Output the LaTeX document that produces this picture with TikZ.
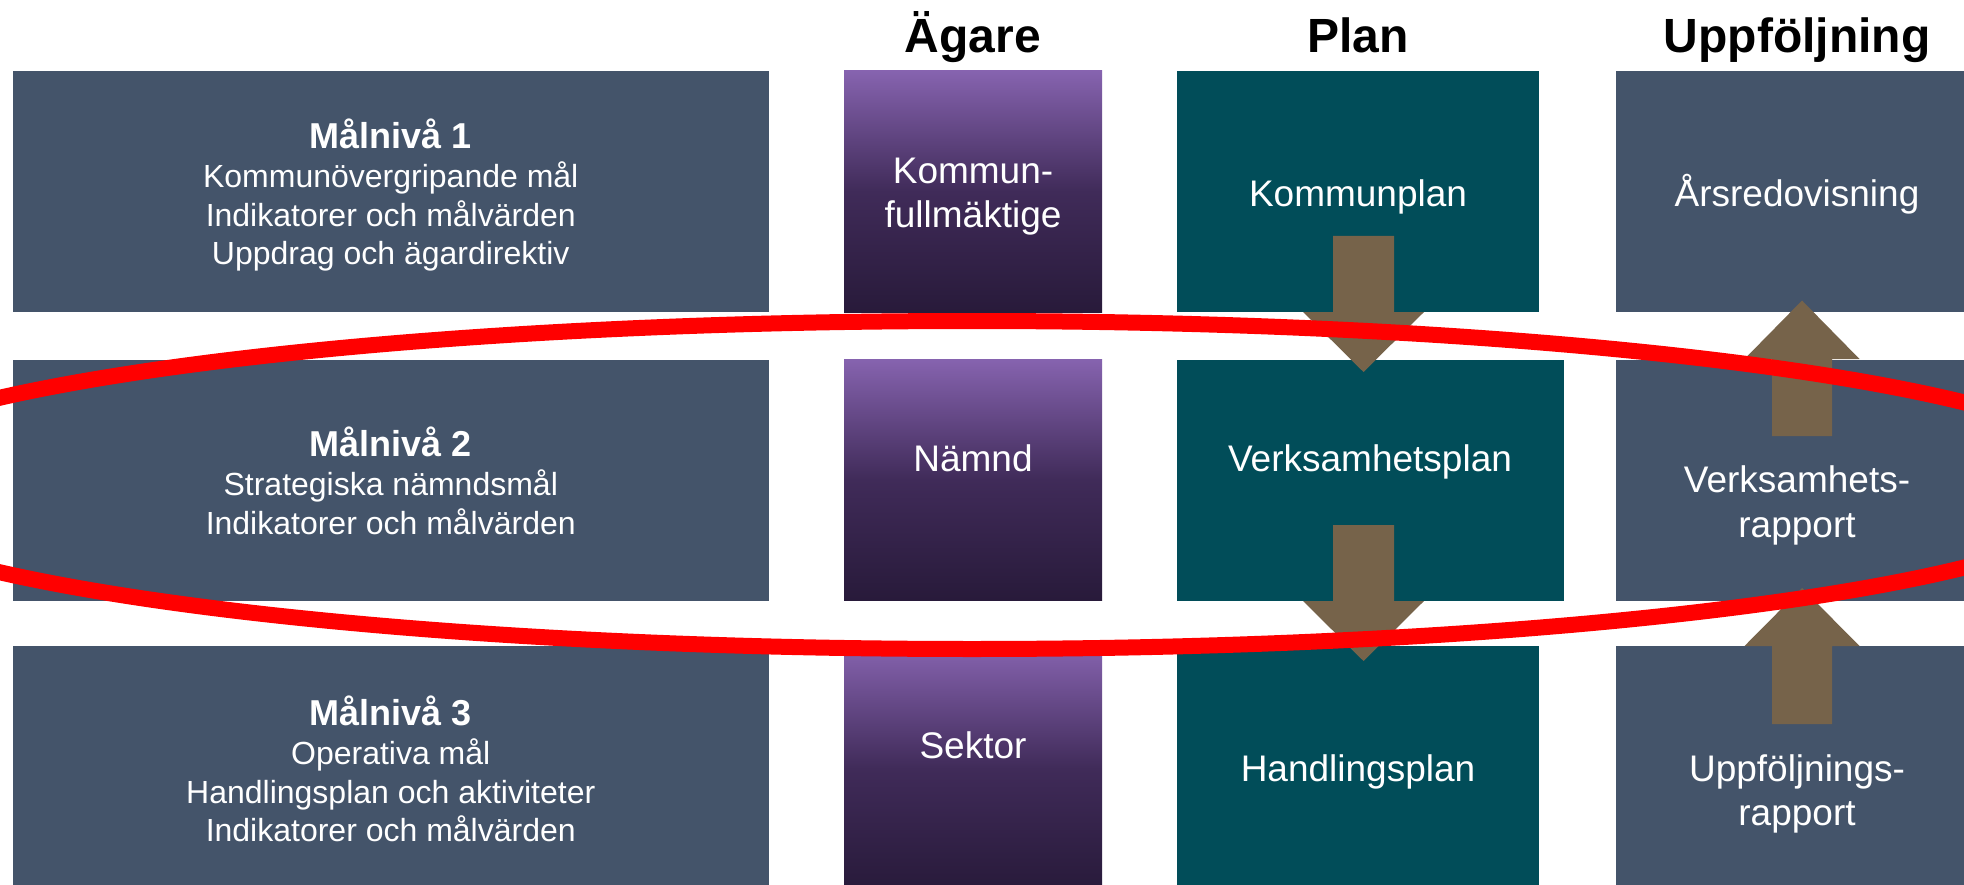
\documentclass[tikz,border=0pt]{standalone}
\usepackage{fontspec}
\setmainfont{Liberation Sans}
\definecolor{slate}{RGB}{68,84,106}
\definecolor{tealbox}{RGB}{1,77,89}
\definecolor{arrowbrown}{RGB}{118,99,74}
\definecolor{purtop}{RGB}{134,99,175}
\definecolor{purmid}{RGB}{64,43,89}
\definecolor{purbot}{RGB}{40,26,58}
\begin{document}
\begin{tikzpicture}[x=1pt,y=-1pt,
  box/.style={draw=none, inner sep=0pt, outer sep=0pt, anchor=north west},
  goalbox/.style={box, fill=slate, minimum width=756.5pt},
  ownerbox/.style={box, top color=purtop, bottom color=purbot, middle color=purmid, minimum width=258pt},
  planbox/.style={box, fill=tealbox},
  followbox/.style={box, fill=slate, minimum width=360pt},
  goaltitle/.style={text=white, anchor=base, inner sep=0pt, font=\fontsize{36}{40}\selectfont\bfseries},
  goaltext/.style={text=white, anchor=base, inner sep=0pt, font=\fontsize{32}{38}\selectfont},
  coltext/.style={text=white, anchor=base, inner sep=0pt, font=\fontsize{37}{44}\selectfont},
  header/.style={text=black, anchor=base, inner sep=0pt, font=\fontsize{48}{52}\selectfont\bfseries},
  blockarrow/.style={fill=arrowbrown, draw=none},
  ring/.style={draw=red, line width=16pt}
]
\useasboundingbox (0,0) rectangle (1964,885);
\clip (0,0) rectangle (1964,885);

% headers
\node[header] (hA) at (973,53) {Ägare};
\node[header] (hP) at (1358,53) {Plan};
\node[header] (hU) at (1797,53) {Uppföljning};

% goal boxes
\node[goalbox, minimum height=241pt] (m1) at (12.5,71) {};
\node[goalbox, minimum height=241.5pt] (m2) at (12.5,359.5) {};
\node[goalbox, minimum height=245pt] (m3) at (12.5,646) {};

% owner boxes
\node[ownerbox, minimum height=241pt] (o1) at (844,71) {};
\node[ownerbox, minimum height=241.5pt] (o2) at (844,359) {};
\node[ownerbox, minimum height=245pt] (o3) at (844,646) {};

% plan boxes
\node[planbox, minimum width=362pt, minimum height=241pt] (p1) at (1177,71) {};
\node[planbox, minimum width=387pt, minimum height=241.5pt] (p2) at (1177,359.5) {};
\node[planbox, minimum width=362pt, minimum height=245pt] (p3) at (1177,646) {};

% follow-up boxes
\node[followbox, minimum height=241pt] (f1) at (1616,71) {};
\node[followbox, minimum height=241.5pt] (f2) at (1616,359.5) {};
\node[followbox, minimum height=245pt] (f3) at (1616,646) {};

% goal texts
\node[goaltitle] (t1a) at (390.75,149) {Målnivå 1};
\node[goaltext] (t1b) at (390.75,188) {Kommunövergripande mål};
\node[goaltext] (t1c) at (390.75,226.5) {Indikatorer och målvärden};
\node[goaltext] (t1d) at (390.75,265) {Uppdrag och ägardirektiv};

\node[goaltitle] (t2a) at (390.75,456) {Målnivå 2};
\node[goaltext] (t2b) at (390.75,495) {Strategiska nämndsmål};
\node[goaltext] (t2c) at (390.75,534) {Indikatorer och målvärden};

\node[goaltitle] (t3a) at (390.75,725) {Målnivå 3};
\node[goaltext] (t3b) at (390.75,764) {Operativa mål};
\node[goaltext] (t3c) at (390.75,803) {Handlingsplan och aktiviteter};
\node[goaltext] (t3d) at (390.75,841.5) {Indikatorer och målvärden};

% owner texts
\node[coltext] (ot1a) at (973,184) {Kommun-};
\node[coltext] (ot1b) at (973,228) {fullmäktige};
\node[coltext] (ot2) at (973,471) {Nämnd};
\node[coltext] (ot3) at (973,758) {Sektor};

% plan texts
\node[coltext] (pt1) at (1358,206.5) {Kommunplan};
\node[coltext] (pt2) at (1370,471) {Verksamhetsplan};
\node[coltext] (pt3) at (1358,781.5) {Handlingsplan};

% follow-up texts
\node[coltext] (ft1) at (1797,206.5) {Årsredovisning};
\node[coltext] (ft2a) at (1797,492.5) {Verksamhets-};
\node[coltext] (ft2b) at (1797,537) {rapport};
\node[coltext] (ft3a) at (1797,781) {Uppföljnings-};
\node[coltext] (ft3b) at (1797,825.5) {rapport};

% block arrows
\fill[blockarrow] (1333,236) -- (1394,236) -- (1394,312) -- (1424,312) -- (1363.5,372) -- (1303,312) -- (1333,312) -- cycle;
\fill[blockarrow] (1333,525) -- (1394,525) -- (1394,601) -- (1424,601) -- (1363.5,661) -- (1303,601) -- (1333,601) -- cycle;
\fill[blockarrow] (1772,436) -- (1832,436) -- (1832,359) -- (1859.5,359) -- (1802,300.5) -- (1744.5,359) -- (1772,359) -- cycle;
\fill[blockarrow] (1772,724) -- (1832,724) -- (1832,646) -- (1859.5,646) -- (1802,588) -- (1744.5,646) -- (1772,646) -- cycle;

% red ring
\draw[ring] (972,485) ellipse [x radius=1148pt, y radius=164pt];
\end{tikzpicture}
\end{document}
